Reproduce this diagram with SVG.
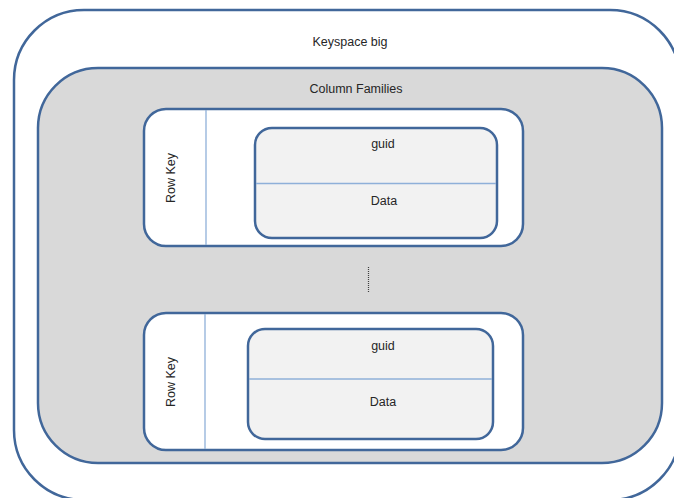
<svg xmlns="http://www.w3.org/2000/svg" width="674" height="498" viewBox="0 0 674 498">
<style>
.box{stroke:#41679a;stroke-width:2.5}
.div{stroke:#8fb0d9;stroke-width:1.3;fill:none}
.t{font-family:"Liberation Sans",Arial,sans-serif;font-size:12.5px;fill:#262626;text-anchor:middle}
</style>
<rect width="674" height="498" fill="#ffffff"/>
<g id="keyspace">
<rect class="box" x="14" y="10" width="666" height="490" rx="70" fill="#ffffff"/>
<text class="t" x="350" y="46">Keyspace big</text>
</g>
<g id="column-families">
<rect class="box" x="38" y="68" width="624" height="395" rx="60" fill="#d9d9d9"/>
<text class="t" x="356" y="93">Column Families</text>
</g>
<g id="row1">
<rect class="box" x="144" y="109" width="379" height="137" rx="22" fill="#ffffff"/>
<line class="div" x1="206" y1="110" x2="206" y2="245"/>
<text class="t" transform="translate(175,178) rotate(-90)">Row Key</text>
</g>
<g id="cell1">
<rect class="box" x="255" y="128" width="242" height="110" rx="17" fill="#f2f2f2"/>
<line class="div" x1="256" y1="183.5" x2="496" y2="183.5"/>
<text class="t" x="383" y="147.5">guid</text>
<text class="t" x="384" y="204.5">Data</text>
</g>
<g id="row2">
<rect class="box" x="144" y="313" width="379" height="137" rx="22" fill="#ffffff"/>
<line class="div" x1="205" y1="314" x2="205" y2="449"/>
<text class="t" transform="translate(175,382) rotate(-90)">Row Key</text>
</g>
<g id="cell2">
<rect class="box" x="248" y="329" width="245" height="110" rx="17" fill="#f2f2f2"/>
<line class="div" x1="249" y1="379" x2="492" y2="379"/>
<text class="t" x="383" y="349.5">guid</text>
<text class="t" x="383" y="406">Data</text>
</g>
<g id="connectors">
<line x1="368.5" y1="267" x2="368.5" y2="293" stroke="#404040" stroke-width="1.2" stroke-dasharray="1,1"/>
</g>
</svg>
